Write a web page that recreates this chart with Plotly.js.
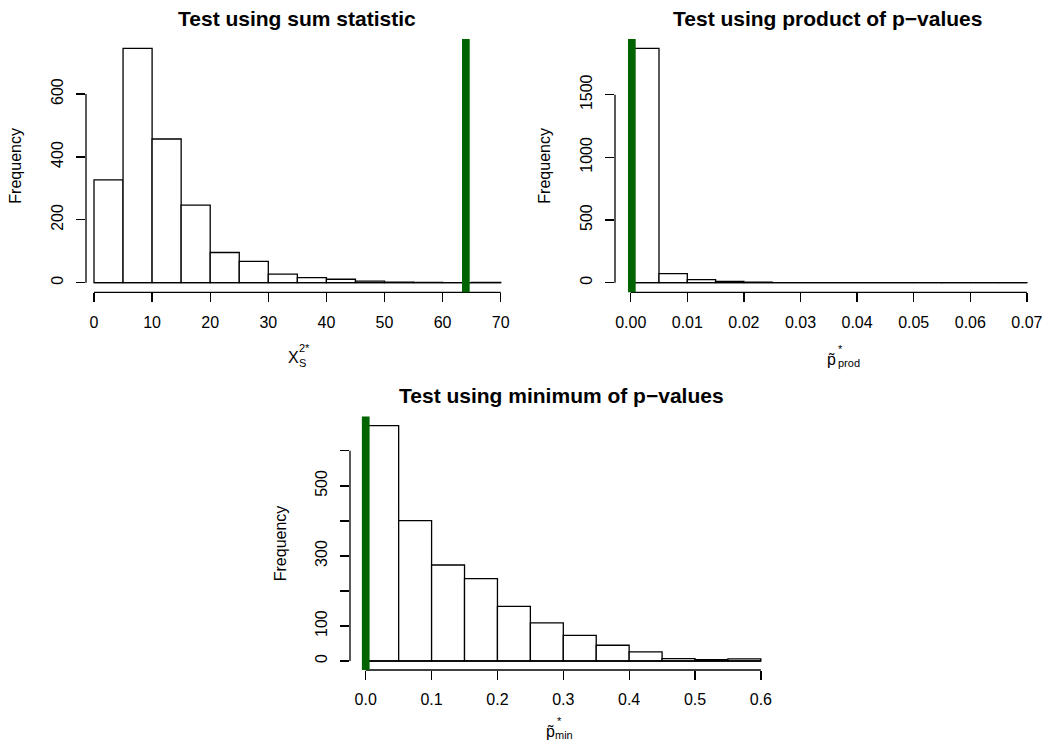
<!DOCTYPE html>
<html>
<head>
<meta charset="utf-8">
<script src="https://cdn.plot.ly/plotly-3.0.1.min.js"></script>
<style>
html,body{margin:0;padding:0;background:#fff;}
#chart{width:1045px;height:752px;}
</style>
</head>
<body>
<div id="chart"></div>
<script>
// ---------------- data ----------------
const breaksSum = [0,5,10,15,20,25,30,35,40,45,50,55,60,65,70];
const countsSum = [327,745,457,247,96,68,27,16,11,5,2,1,0,1];
const observedSum = 64;

const breaksProd = [0,0.005,0.01,0.015,0.02,0.025,0.03,0.035,0.04,0.045,0.05,0.055,0.06,0.065,0.07];
const countsProd = [1870,72,24,10,4,0,0,0,0,0,1,1,0,1];
const observedProd = 0.0002;

const breaksMin = [0,0.05,0.1,0.15,0.2,0.25,0.3,0.35,0.4,0.45,0.5,0.55,0.6];
const countsMin = [672,401,274,235,156,109,73,45,26,7,4,6];
const observedMin = 0.0;

const ticksSumX = [0,10,20,30,40,50,60,70];
const ticksSumXText = ['0','10','20','30','40','50','60','70'];
const ticksSumY = [0,200,400,600];
const ticksSumYText = ['0','200','400','600'];

const ticksProdX = [0,0.01,0.02,0.03,0.04,0.05,0.06,0.07];
const ticksProdXText = ['0.00','0.01','0.02','0.03','0.04','0.05','0.06','0.07'];
const ticksProdY = [0,500,1000,1500];
const ticksProdYText = ['0','500','1000','1500'];

const ticksMinX = [0,0.1,0.2,0.3,0.4,0.5,0.6];
const ticksMinXText = ['0.0','0.1','0.2','0.3','0.4','0.5','0.6'];
const ticksMinY = [0,100,200,300,400,500,600];
const ticksMinYText = ['0','100','','300','','500',''];

const titles = ['Test using sum statistic','Test using product of p\u2212values','Test using minimum of p\u2212values'];

// ---------------- layout helpers ----------------
const W = 1045, H = 752;
const px = v => v / W;
const py = v => 1 - v / H;
const FONT = 'Liberation Sans, Arial, Helvetica, sans-serif';
const LW = 1.3;

// panel boxes in pixels (plot region)
const panels = [
  {l:86,  r:511,   t:39,    b:292.3, xr:[-1.377, 71.77],     yr:[-30.5, 774.9]},
  {l:615, r:1042,  t:39,    b:292.3, xr:[-0.002774, 0.07267], yr:[-76.6, 1944.5]},
  {l:350, r:776.4, t:416.5, b:670,   xr:[-0.0239, 0.6236],    yr:[-25.7, 698]}
];

const hist = [
  {breaks:breaksSum,  counts:countsSum,  obs:observedSum,  tx:ticksSumX,  ttx:ticksSumXText,  ty:ticksSumY,  tty:ticksSumYText},
  {breaks:breaksProd, counts:countsProd, obs:observedProd, tx:ticksProdX, ttx:ticksProdXText, ty:ticksProdY, tty:ticksProdYText},
  {breaks:breaksMin,  counts:countsMin,  obs:observedMin,  tx:ticksMinX,  ttx:ticksMinXText,  ty:ticksMinY,  tty:ticksMinYText}
];

const data = [];
const layout = {
  width: W, height: H,
  margin: {l:0, r:0, t:0, b:0},
  paper_bgcolor: '#fff', plot_bgcolor: 'rgba(0,0,0,0)',
  showlegend: false,
  font: {family: FONT, size: 16, color: '#000'},
  shapes: [], annotations: []
};

hist.forEach((h, i) => {
  const n = i + 1;
  const xa = n === 1 ? 'x' : 'x' + n;
  const ya = n === 1 ? 'y' : 'y' + n;
  const p = panels[i];
  const mids = h.counts.map((_, k) => (h.breaks[k] + h.breaks[k + 1]) / 2);
  const widths = h.counts.map((_, k) => h.breaks[k + 1] - h.breaks[k]);
  data.push({
    type: 'bar', x: mids, y: h.counts, width: widths,
    xaxis: xa, yaxis: ya,
    marker: {color: '#ffffff', line: {color: '#000', width: LW}},
    hoverinfo: 'x+y'
  });
  const axBase = {
    showgrid: false, zeroline: false, showline: false,
    ticks: 'outside', ticklen: 9, tickwidth: LW, tickcolor: '#000',
    tickfont: {family: FONT, size: 16, color: '#000'},
    fixedrange: true
  };
  layout[n === 1 ? 'xaxis' : 'xaxis' + n] = Object.assign({}, axBase, {
    domain: [px(p.l), px(p.r)], range: p.xr, anchor: ya,
    tickmode: 'array', tickvals: h.tx, ticktext: h.ttx, ticklabelstandoff: 6
  });
  layout[n === 1 ? 'yaxis' : 'yaxis' + n] = Object.assign({}, axBase, {
    domain: [py(p.b), py(p.t)], range: p.yr, anchor: xa,
    tickmode: 'array', tickvals: h.ty, ticktext: h.tty, tickangle: -90, ticklabelstandoff: 7
  });
  // axis lines (R style: from first to last tick)
  layout.shapes.push({type:'line', xref:xa, yref:'paper', x0:h.tx[0], x1:h.tx[h.tx.length-1], y0:py(p.b), y1:py(p.b), line:{color:'#000', width:LW}});
  layout.shapes.push({type:'line', xref:'paper', yref:ya, x0:px(p.l), x1:px(p.l), y0:h.ty[0], y1:h.ty[h.ty.length-1], line:{color:'#000', width:LW}});
  // baseline of histogram (zero-height bars)
  layout.shapes.push({type:'line', xref:xa, yref:ya, x0:h.breaks[0], x1:h.breaks[h.breaks.length-1], y0:0, y1:0, line:{color:'#000', width:LW}});
  // observed statistic
  layout.shapes.push({type:'line', xref:xa, yref:'paper', x0:h.obs, x1:h.obs, y0:py(p.b), y1:py(p.t), line:{color:'#006400', width:7.7}});
  // title
  layout.annotations.push({xref:'paper', yref:'paper', x:px((p.l + p.r) / 2 - 1.5), y:py(p.t - 20.5), xanchor:'center', yanchor:'middle',
    text:'<b>' + titles[i] + '</b>', showarrow:false, font:{family:FONT, size:21, color:'#000'}});
  // y title
  layout.annotations.push({xref:'paper', yref:'paper', x:px(p.l - 70), y:py((p.t + p.b) / 2), xanchor:'center', yanchor:'middle',
    text:'Frequency', textangle:-90, showarrow:false, font:{family:FONT, size:16, color:'#000'}});
});

// x-axis titles with stacked super/subscripts
function ann(x, y, text, size) {
  layout.annotations.push({xref:'paper', yref:'paper', x:px(x), y:py(y), xanchor:'left', yanchor:'middle',
    text:text, showarrow:false, font:{family:FONT, size:size, color:'#000'}});
}
ann(285.5, 357, 'X', 16);
ann(296.5, 348, '2*', 11);
ann(296.5, 362.5, 'S', 11);

ann(825, 359, 'p\u0303', 16);
ann(835.5, 349, '*', 11);
ann(835.5, 362.5, 'prod', 11);

ann(544, 731, 'p\u0303', 16);
ann(554.5, 721, '*', 11);
ann(553, 734.5, 'min', 11);

Plotly.newPlot('chart', data, layout, {displayModeBar: false, staticPlot: true});
</script>
</body>
</html>
